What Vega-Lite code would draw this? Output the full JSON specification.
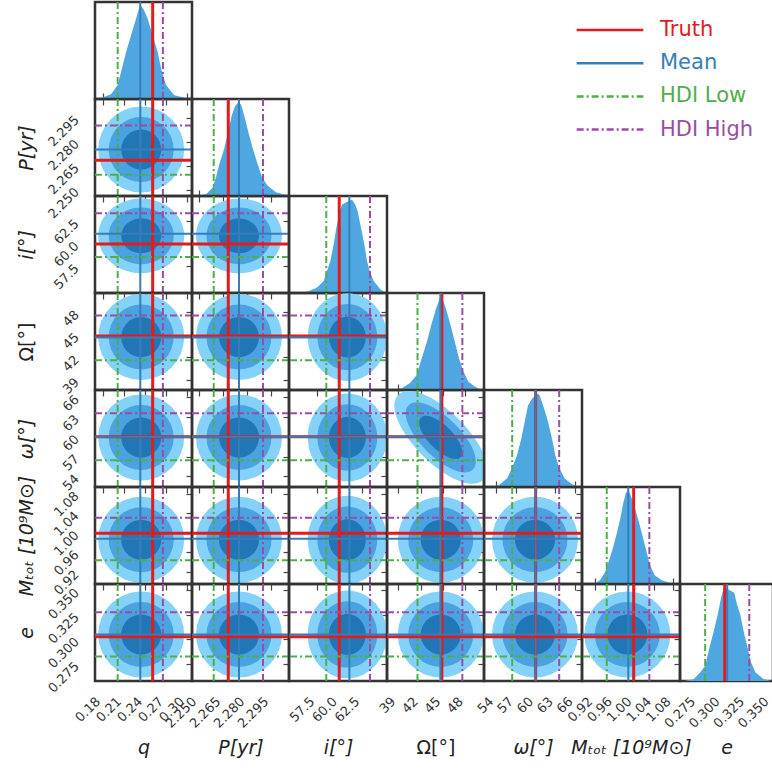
{
"$schema":"https://vega.github.io/schema/vega-lite/v6.json",
"background":"white",
"padding":{"left":15,"top":-1,"right":0,"bottom":0},
"columns":7,"spacing":0,"bounds":"flush",
"datasets":{
"ctr":[{"lv":1,"q":0.235,"P":2.275,"i":60.87,"Om":44.7,"om":59.9,"M":0.986,"e":0.305},{"lv":2,"q":0.235,"P":2.275,"i":60.87,"Om":44.7,"om":59.9,"M":0.986,"e":0.305},{"lv":3,"q":0.235,"P":2.275,"i":60.87,"Om":44.7,"om":59.9,"M":0.986,"e":0.305}],
"st":[{"k":"Truth","q":0.2514,"P":2.2683,"i":59.97,"Om":44.85,"om":60.0,"M":0.999,"e":0.3025},{"k":"Mean","q":0.2337,"P":2.275,"i":61.1,"Om":44.65,"om":60.0,"M":0.988,"e":0.305},{"k":"HDI Low","q":0.2014,"P":2.2592,"i":58.53,"Om":41.6,"om":56.45,"M":0.944,"e":0.2825},{"k":"HDI High","q":0.266,"P":2.29,"i":63.39,"Om":47.58,"om":63.56,"M":1.031,"e":0.3275}],
"h_q":[{"x":0.1729,"d":0},{"x":0.1776,"d":0.01},{"x":0.1919,"d":0.05},{"x":0.2014,"d":0.15},{"x":0.2076,"d":0.33},{"x":0.2133,"d":0.5},{"x":0.2204,"d":0.68},{"x":0.2276,"d":0.86},{"x":0.2323,"d":0.98},{"x":0.2347,"d":1.0},{"x":0.2386,"d":0.96},{"x":0.2443,"d":0.86},{"x":0.2514,"d":0.68},{"x":0.2586,"d":0.5},{"x":0.2633,"d":0.33},{"x":0.2704,"d":0.15},{"x":0.2823,"d":0.04},{"x":0.299,"d":0.01},{"x":0.3007,"d":0}],
"h_P":[{"x":2.2492,"d":0},{"x":2.2544,"d":0.02},{"x":2.2585,"d":0.09},{"x":2.2606,"d":0.2},{"x":2.2627,"d":0.34},{"x":2.2658,"d":0.51},{"x":2.2683,"d":0.69},{"x":2.2704,"d":0.86},{"x":2.2725,"d":0.96},{"x":2.2742,"d":1.0},{"x":2.2763,"d":0.98},{"x":2.2783,"d":0.86},{"x":2.2808,"d":0.69},{"x":2.2836,"d":0.51},{"x":2.2867,"d":0.34},{"x":2.2894,"d":0.2},{"x":2.2929,"d":0.11},{"x":2.2981,"d":0.04},{"x":2.3044,"d":0.01},{"x":2.3054,"d":0}],
"h_i":[{"x":55.28,"d":0},{"x":56.39,"d":0.014},{"x":57.5,"d":0.057},{"x":58.24,"d":0.128},{"x":58.61,"d":0.235},{"x":58.98,"d":0.34},{"x":59.35,"d":0.52},{"x":59.65,"d":0.7},{"x":60.02,"d":0.875},{"x":60.28,"d":0.947},{"x":61.02,"d":0.986},{"x":61.39,"d":1.0},{"x":61.76,"d":0.947},{"x":62.02,"d":0.875},{"x":62.39,"d":0.7},{"x":62.76,"d":0.52},{"x":63.06,"d":0.34},{"x":63.35,"d":0.235},{"x":63.8,"d":0.128},{"x":64.54,"d":0.04},{"x":65.2,"d":0}],
"h_Om":[{"x":38.16,"d":0},{"x":39.49,"d":0.02},{"x":40.6,"d":0.074},{"x":41.49,"d":0.16},{"x":42.16,"d":0.34},{"x":42.83,"d":0.51},{"x":43.4,"d":0.69},{"x":44.07,"d":0.87},{"x":44.51,"d":0.97},{"x":44.73,"d":1.0},{"x":44.96,"d":0.97},{"x":45.4,"d":0.87},{"x":46.03,"d":0.69},{"x":46.6,"d":0.51},{"x":47.13,"d":0.34},{"x":47.71,"d":0.2},{"x":48.37,"d":0.09},{"x":49.17,"d":0.04},{"x":50.16,"d":0}],
"h_om":[{"x":53.14,"d":0},{"x":54.41,"d":0.02},{"x":55.66,"d":0.09},{"x":56.42,"d":0.2},{"x":57.18,"d":0.34},{"x":57.83,"d":0.52},{"x":58.34,"d":0.7},{"x":58.84,"d":0.875},{"x":59.45,"d":0.947},{"x":59.95,"d":0.98},{"x":60.35,"d":1.0},{"x":60.61,"d":0.98},{"x":60.96,"d":0.91},{"x":61.46,"d":0.8},{"x":61.87,"d":0.7},{"x":62.47,"d":0.52},{"x":62.97,"d":0.34},{"x":63.58,"d":0.2},{"x":64.39,"d":0.09},{"x":65.5,"d":0.03},{"x":66.51,"d":0}],
"h_M":[{"x":0.9165,"d":0},{"x":0.9302,"d":0.04},{"x":0.9404,"d":0.127},{"x":0.9472,"d":0.23},{"x":0.9541,"d":0.34},{"x":0.9629,"d":0.51},{"x":0.9711,"d":0.69},{"x":0.9778,"d":0.87},{"x":0.9827,"d":0.97},{"x":0.986,"d":1.0},{"x":0.9915,"d":0.97},{"x":0.9983,"d":0.87},{"x":1.0084,"d":0.69},{"x":1.0174,"d":0.51},{"x":1.0256,"d":0.34},{"x":1.0323,"d":0.2},{"x":1.0425,"d":0.09},{"x":1.0562,"d":0.04},{"x":1.0732,"d":0.01},{"x":1.08,"d":0}],
"h_e":[{"x":0.2606,"d":0},{"x":0.2708,"d":0.02},{"x":0.2776,"d":0.094},{"x":0.2827,"d":0.167},{"x":0.2867,"d":0.35},{"x":0.2912,"d":0.53},{"x":0.2953,"d":0.71},{"x":0.2987,"d":0.89},{"x":0.3014,"d":1.0},{"x":0.3048,"d":0.99},{"x":0.3122,"d":0.946},{"x":0.315,"d":0.82},{"x":0.3184,"d":0.71},{"x":0.3218,"d":0.53},{"x":0.3259,"d":0.35},{"x":0.3293,"d":0.2},{"x":0.3337,"d":0.094},{"x":0.3422,"d":0.02},{"x":0.3507,"d":0}]
},
"concat":[
{"width":97,"height":97,"resolve":{"axis":{"x":"independent"}},"layer":[
{"data":{"name":"h_q"},"mark":{"type":"area","color":"#4fa7e1","clip":true},"encoding":{"x":{"field":"x","type":"quantitative","scale":{"domain":[0.169,0.30757],"nice":false,"zero":false},"axis":null},"y":{"field":"d","type":"quantitative","scale":{"domain":[0,1.04],"nice":false},"axis":null}}},
{"data":{"name":"st"},"mark":"rule","encoding":{"x":{"field":"q","type":"quantitative","axis":{"orient":"bottom","values":[0.18,0.21,0.24,0.27,0.3],"title":null}},"color":{"field":"k","type":"nominal","title":null,"scale":{"domain":["Truth","Mean","HDI Low","HDI High"],"range":["#e41a1c","#377eb8","#4daf4a","#984ea3"]},"legend":{"title":null,"labelColor":{"expr":"datum.value=='Truth'?'#e41a1c':datum.value=='Mean'?'#377eb8':datum.value=='HDI Low'?'#4daf4a':'#984ea3'"}}},"strokeDash":{"field":"k","type":"nominal","title":null,"scale":{"domain":["Truth","Mean","HDI Low","HDI High"],"range":[[1,0],[1,0],[7,3,2,3],[7,3,2,3]]},"legend":{"title":null}},"strokeWidth":{"condition":{"test":"datum.k=='Truth'","value":3},"value":2}}}]},
{"width":97,"height":97,"data":{"values":[]},"mark":"point","view":{"stroke":null}},
{"width":98,"height":97,"data":{"values":[]},"mark":"point","view":{"stroke":null}},
{"width":97,"height":97,"data":{"values":[]},"mark":"point","view":{"stroke":null}},
{"width":98,"height":97,"data":{"values":[]},"mark":"point","view":{"stroke":null}},
{"width":98,"height":97,"data":{"values":[]},"mark":"point","view":{"stroke":null}},
{"width":93,"height":97,"data":{"values":[]},"mark":"point","view":{"stroke":null}},

{"width":97,"height":97,"resolve":{"axis":{"x":"independent","y":"independent"}},"layer":[
{"data":{"name":"ctr"},"mark":{"type":"point","shape":"circle","filled":true,"opacity":1,"strokeWidth":0,"clip":true},"encoding":{"x":{"field":"q","type":"quantitative","scale":{"domain":[0.169,0.30757],"nice":false,"zero":false},"axis":{"orient":"top","values":[0.18,0.21,0.24,0.27,0.3],"title":null}},"y":{"field":"P","type":"quantitative","scale":{"domain":[2.246,2.3066],"nice":false,"zero":false},"axis":{"orient":"right","values":[2.25,2.265,2.28,2.295],"title":null}},"size":{"condition":[{"test":"datum.lv==1","value":7396},{"test":"datum.lv==2","value":4225}],"value":1600},"fill":{"condition":[{"test":"datum.lv==1","value":"#84d2f9"},{"test":"datum.lv==2","value":"#4aa2e0"}],"value":"#2176b6"}}},
{"data":{"name":"st"},"mark":"rule","encoding":{"x":{"field":"q","type":"quantitative","axis":null},"color":{"field":"k","type":"nominal","title":null},"strokeDash":{"field":"k","type":"nominal","title":null},"strokeWidth":{"condition":{"test":"datum.k=='Truth'","value":3},"value":2}}},
{"data":{"name":"st"},"mark":"rule","encoding":{"y":{"field":"P","type":"quantitative","axis":{"orient":"left","values":[2.25,2.265,2.28,2.295],"format":".3f","labels":true,"ticks":false,"labelAngle":-45,"labelAlign":"right","labelBaseline":"middle","labelPadding":18.6,"title":"P[yr]","titleFontStyle":"italic","titleX":-63,"titleY":48.5,"titleAngle":-90,"titleAlign":"center","titleBaseline":"alphabetic"}},"color":{"field":"k","type":"nominal","title":null},"strokeDash":{"field":"k","type":"nominal","title":null},"strokeWidth":{"condition":{"test":"datum.k=='Truth'","value":3},"value":2}}}]},
{"width":97,"height":97,"resolve":{"axis":{"x":"independent"}},"layer":[
{"data":{"name":"h_P"},"mark":{"type":"area","color":"#4fa7e1","clip":true},"encoding":{"x":{"field":"x","type":"quantitative","scale":{"domain":[2.24563,2.30625],"nice":false,"zero":false},"axis":null},"y":{"field":"d","type":"quantitative","scale":{"domain":[0,1.04],"nice":false},"axis":null}}},
{"data":{"name":"st"},"mark":"rule","encoding":{"x":{"field":"P","type":"quantitative","axis":{"orient":"bottom","values":[2.25,2.265,2.28,2.295],"title":null}},"color":{"field":"k","type":"nominal","title":null},"strokeDash":{"field":"k","type":"nominal","title":null},"strokeWidth":{"condition":{"test":"datum.k=='Truth'","value":3},"value":2}}}]},
{"width":98,"height":97,"data":{"values":[]},"mark":"point","view":{"stroke":null}},
{"width":97,"height":97,"data":{"values":[]},"mark":"point","view":{"stroke":null}},
{"width":98,"height":97,"data":{"values":[]},"mark":"point","view":{"stroke":null}},
{"width":98,"height":97,"data":{"values":[]},"mark":"point","view":{"stroke":null}},
{"width":93,"height":97,"data":{"values":[]},"mark":"point","view":{"stroke":null}},

{"width":97,"height":97,"resolve":{"axis":{"x":"independent","y":"independent"}},"layer":[
{"data":{"name":"ctr"},"mark":{"type":"point","shape":"M 1 0 A 1 0.87 0 1 1 -1 0 A 1 0.87 0 1 1 1 0 Z","filled":true,"opacity":1,"strokeWidth":0,"clip":true},"encoding":{"x":{"field":"q","type":"quantitative","scale":{"domain":[0.169,0.30757],"nice":false,"zero":false},"axis":{"orient":"top","values":[0.18,0.21,0.24,0.27,0.3],"title":null}},"y":{"field":"i","type":"quantitative","scale":{"domain":[54.52,65.3],"nice":false,"zero":false},"axis":{"orient":"right","values":[57.5,60,62.5],"title":null}},"size":{"condition":[{"test":"datum.lv==1","value":7396},{"test":"datum.lv==2","value":4225}],"value":1600},"fill":{"condition":[{"test":"datum.lv==1","value":"#84d2f9"},{"test":"datum.lv==2","value":"#4aa2e0"}],"value":"#2176b6"}}},
{"data":{"name":"st"},"mark":"rule","encoding":{"x":{"field":"q","type":"quantitative","axis":null},"color":{"field":"k","type":"nominal","title":null},"strokeDash":{"field":"k","type":"nominal","title":null},"strokeWidth":{"condition":{"test":"datum.k=='Truth'","value":3},"value":2}}},
{"data":{"name":"st"},"mark":"rule","encoding":{"y":{"field":"i","type":"quantitative","axis":{"orient":"left","values":[57.5,60,62.5],"format":".1f","labels":true,"ticks":false,"labelAngle":-45,"labelAlign":"right","labelBaseline":"middle","labelPadding":18.6,"title":"i[°]","titleFontStyle":"italic","titleX":-63,"titleY":48.5,"titleAngle":-90,"titleAlign":"center","titleBaseline":"alphabetic"}},"color":{"field":"k","type":"nominal","title":null},"strokeDash":{"field":"k","type":"nominal","title":null},"strokeWidth":{"condition":{"test":"datum.k=='Truth'","value":3},"value":2}}}]},
{"width":97,"height":97,"resolve":{"axis":{"x":"independent","y":"independent"}},"layer":[
{"data":{"name":"ctr"},"mark":{"type":"point","shape":"M 1 0 A 1 0.87 0 1 1 -1 0 A 1 0.87 0 1 1 1 0 Z","filled":true,"opacity":1,"strokeWidth":0,"clip":true},"encoding":{"x":{"field":"P","type":"quantitative","scale":{"domain":[2.24563,2.30625],"nice":false,"zero":false},"axis":{"orient":"top","values":[2.25,2.265,2.28,2.295],"title":null}},"y":{"field":"i","type":"quantitative","scale":{"domain":[54.52,65.3],"nice":false,"zero":false},"axis":{"orient":"right","values":[57.5,60,62.5],"title":null}},"size":{"condition":[{"test":"datum.lv==1","value":7396},{"test":"datum.lv==2","value":4225}],"value":1600},"fill":{"condition":[{"test":"datum.lv==1","value":"#84d2f9"},{"test":"datum.lv==2","value":"#4aa2e0"}],"value":"#2176b6"}}},
{"data":{"name":"st"},"mark":"rule","encoding":{"x":{"field":"P","type":"quantitative","axis":null},"color":{"field":"k","type":"nominal","title":null},"strokeDash":{"field":"k","type":"nominal","title":null},"strokeWidth":{"condition":{"test":"datum.k=='Truth'","value":3},"value":2}}},
{"data":{"name":"st"},"mark":"rule","encoding":{"y":{"field":"i","type":"quantitative","axis":null},"color":{"field":"k","type":"nominal","title":null},"strokeDash":{"field":"k","type":"nominal","title":null},"strokeWidth":{"condition":{"test":"datum.k=='Truth'","value":3},"value":2}}}]},
{"width":98,"height":97,"resolve":{"axis":{"x":"independent"}},"layer":[
{"data":{"name":"h_i"},"mark":{"type":"area","color":"#4fa7e1","clip":true},"encoding":{"x":{"field":"x","type":"quantitative","scale":{"domain":[54.389,65.278],"nice":false,"zero":false},"axis":null},"y":{"field":"d","type":"quantitative","scale":{"domain":[0,1.04],"nice":false},"axis":null}}},
{"data":{"name":"st"},"mark":"rule","encoding":{"x":{"field":"i","type":"quantitative","axis":{"orient":"bottom","values":[57.5,60,62.5],"title":null}},"color":{"field":"k","type":"nominal","title":null},"strokeDash":{"field":"k","type":"nominal","title":null},"strokeWidth":{"condition":{"test":"datum.k=='Truth'","value":3},"value":2}}}]},
{"width":97,"height":97,"data":{"values":[]},"mark":"point","view":{"stroke":null}},
{"width":98,"height":97,"data":{"values":[]},"mark":"point","view":{"stroke":null}},
{"width":98,"height":97,"data":{"values":[]},"mark":"point","view":{"stroke":null}},
{"width":93,"height":97,"data":{"values":[]},"mark":"point","view":{"stroke":null}},

{"width":97,"height":97,"resolve":{"axis":{"x":"independent","y":"independent"}},"layer":[
{"data":{"name":"ctr"},"mark":{"type":"point","shape":"circle","filled":true,"opacity":1,"strokeWidth":0,"clip":true},"encoding":{"x":{"field":"q","type":"quantitative","scale":{"domain":[0.169,0.30757],"nice":false,"zero":false},"axis":{"orient":"top","values":[0.18,0.21,0.24,0.27,0.3],"title":null}},"y":{"field":"Om","type":"quantitative","scale":{"domain":[37.64,50.57],"nice":false,"zero":false},"axis":{"orient":"right","values":[39,42,45,48],"title":null}},"size":{"condition":[{"test":"datum.lv==1","value":7396},{"test":"datum.lv==2","value":4225}],"value":1600},"fill":{"condition":[{"test":"datum.lv==1","value":"#84d2f9"},{"test":"datum.lv==2","value":"#4aa2e0"}],"value":"#2176b6"}}},
{"data":{"name":"st"},"mark":"rule","encoding":{"x":{"field":"q","type":"quantitative","axis":null},"color":{"field":"k","type":"nominal","title":null},"strokeDash":{"field":"k","type":"nominal","title":null},"strokeWidth":{"condition":{"test":"datum.k=='Truth'","value":3},"value":2}}},
{"data":{"name":"st"},"mark":"rule","encoding":{"y":{"field":"Om","type":"quantitative","axis":{"orient":"left","values":[39,42,45,48],"format":"d","labels":true,"ticks":false,"labelAngle":-45,"labelAlign":"right","labelBaseline":"middle","labelPadding":18.6,"title":"Ω[°]","titleFontStyle":"normal","titleX":-63,"titleY":48.5,"titleAngle":-90,"titleAlign":"center","titleBaseline":"alphabetic"}},"color":{"field":"k","type":"nominal","title":null},"strokeDash":{"field":"k","type":"nominal","title":null},"strokeWidth":{"condition":{"test":"datum.k=='Truth'","value":3},"value":2}}}]},
{"width":97,"height":97,"resolve":{"axis":{"x":"independent","y":"independent"}},"layer":[
{"data":{"name":"ctr"},"mark":{"type":"point","shape":"circle","filled":true,"opacity":1,"strokeWidth":0,"clip":true},"encoding":{"x":{"field":"P","type":"quantitative","scale":{"domain":[2.24563,2.30625],"nice":false,"zero":false},"axis":{"orient":"top","values":[2.25,2.265,2.28,2.295],"title":null}},"y":{"field":"Om","type":"quantitative","scale":{"domain":[37.64,50.57],"nice":false,"zero":false},"axis":{"orient":"right","values":[39,42,45,48],"title":null}},"size":{"condition":[{"test":"datum.lv==1","value":7396},{"test":"datum.lv==2","value":4225}],"value":1600},"fill":{"condition":[{"test":"datum.lv==1","value":"#84d2f9"},{"test":"datum.lv==2","value":"#4aa2e0"}],"value":"#2176b6"}}},
{"data":{"name":"st"},"mark":"rule","encoding":{"x":{"field":"P","type":"quantitative","axis":null},"color":{"field":"k","type":"nominal","title":null},"strokeDash":{"field":"k","type":"nominal","title":null},"strokeWidth":{"condition":{"test":"datum.k=='Truth'","value":3},"value":2}}},
{"data":{"name":"st"},"mark":"rule","encoding":{"y":{"field":"Om","type":"quantitative","axis":null},"color":{"field":"k","type":"nominal","title":null},"strokeDash":{"field":"k","type":"nominal","title":null},"strokeWidth":{"condition":{"test":"datum.k=='Truth'","value":3},"value":2}}}]},
{"width":98,"height":97,"resolve":{"axis":{"x":"independent","y":"independent"}},"layer":[
{"data":{"name":"ctr"},"mark":{"type":"point","shape":"M 0.92 0 A 0.92 1.02 0 1 1 -0.92 0 A 0.92 1.02 0 1 1 0.92 0 Z","filled":true,"opacity":1,"strokeWidth":0,"clip":true},"encoding":{"x":{"field":"i","type":"quantitative","scale":{"domain":[54.389,65.278],"nice":false,"zero":false},"axis":{"orient":"top","values":[57.5,60,62.5],"title":null}},"y":{"field":"Om","type":"quantitative","scale":{"domain":[37.64,50.57],"nice":false,"zero":false},"axis":{"orient":"right","values":[39,42,45,48],"title":null}},"size":{"condition":[{"test":"datum.lv==1","value":7396},{"test":"datum.lv==2","value":4225}],"value":1600},"fill":{"condition":[{"test":"datum.lv==1","value":"#84d2f9"},{"test":"datum.lv==2","value":"#4aa2e0"}],"value":"#2176b6"}}},
{"data":{"name":"st"},"mark":"rule","encoding":{"x":{"field":"i","type":"quantitative","axis":null},"color":{"field":"k","type":"nominal","title":null},"strokeDash":{"field":"k","type":"nominal","title":null},"strokeWidth":{"condition":{"test":"datum.k=='Truth'","value":3},"value":2}}},
{"data":{"name":"st"},"mark":"rule","encoding":{"y":{"field":"Om","type":"quantitative","axis":null},"color":{"field":"k","type":"nominal","title":null},"strokeDash":{"field":"k","type":"nominal","title":null},"strokeWidth":{"condition":{"test":"datum.k=='Truth'","value":3},"value":2}}}]},
{"width":97,"height":97,"resolve":{"axis":{"x":"independent"}},"layer":[
{"data":{"name":"h_Om"},"mark":{"type":"area","color":"#4fa7e1","clip":true},"encoding":{"x":{"field":"x","type":"quantitative","scale":{"domain":[37.533,50.467],"nice":false,"zero":false},"axis":null},"y":{"field":"d","type":"quantitative","scale":{"domain":[0,1.04],"nice":false},"axis":null}}},
{"data":{"name":"st"},"mark":"rule","encoding":{"x":{"field":"Om","type":"quantitative","axis":{"orient":"bottom","values":[39,42,45,48],"title":null}},"color":{"field":"k","type":"nominal","title":null},"strokeDash":{"field":"k","type":"nominal","title":null},"strokeWidth":{"condition":{"test":"datum.k=='Truth'","value":3},"value":2}}}]},
{"width":98,"height":97,"data":{"values":[]},"mark":"point","view":{"stroke":null}},
{"width":98,"height":97,"data":{"values":[]},"mark":"point","view":{"stroke":null}},
{"width":93,"height":97,"data":{"values":[]},"mark":"point","view":{"stroke":null}},

{"width":97,"height":97,"resolve":{"axis":{"x":"independent","y":"independent"}},"layer":[
{"data":{"name":"ctr"},"mark":{"type":"point","shape":"circle","filled":true,"opacity":1,"strokeWidth":0,"clip":true},"encoding":{"x":{"field":"q","type":"quantitative","scale":{"domain":[0.169,0.30757],"nice":false,"zero":false},"axis":{"orient":"top","values":[0.18,0.21,0.24,0.27,0.3],"title":null}},"y":{"field":"om","type":"quantitative","scale":{"domain":[52.4,67.07],"nice":false,"zero":false},"axis":{"orient":"right","values":[54,57,60,63,66],"title":null}},"size":{"condition":[{"test":"datum.lv==1","value":7396},{"test":"datum.lv==2","value":4225}],"value":1600},"fill":{"condition":[{"test":"datum.lv==1","value":"#84d2f9"},{"test":"datum.lv==2","value":"#4aa2e0"}],"value":"#2176b6"}}},
{"data":{"name":"st"},"mark":"rule","encoding":{"x":{"field":"q","type":"quantitative","axis":null},"color":{"field":"k","type":"nominal","title":null},"strokeDash":{"field":"k","type":"nominal","title":null},"strokeWidth":{"condition":{"test":"datum.k=='Truth'","value":3},"value":2}}},
{"data":{"name":"st"},"mark":"rule","encoding":{"y":{"field":"om","type":"quantitative","axis":{"orient":"left","values":[54,57,60,63,66],"format":"d","labels":true,"ticks":false,"labelAngle":-45,"labelAlign":"right","labelBaseline":"middle","labelPadding":18.6,"title":"ω[°]","titleFontStyle":"italic","titleX":-63,"titleY":48.5,"titleAngle":-90,"titleAlign":"center","titleBaseline":"alphabetic"}},"color":{"field":"k","type":"nominal","title":null},"strokeDash":{"field":"k","type":"nominal","title":null},"strokeWidth":{"condition":{"test":"datum.k=='Truth'","value":3},"value":2}}}]},
{"width":97,"height":97,"resolve":{"axis":{"x":"independent","y":"independent"}},"layer":[
{"data":{"name":"ctr"},"mark":{"type":"point","shape":"circle","filled":true,"opacity":1,"strokeWidth":0,"clip":true},"encoding":{"x":{"field":"P","type":"quantitative","scale":{"domain":[2.24563,2.30625],"nice":false,"zero":false},"axis":{"orient":"top","values":[2.25,2.265,2.28,2.295],"title":null}},"y":{"field":"om","type":"quantitative","scale":{"domain":[52.4,67.07],"nice":false,"zero":false},"axis":{"orient":"right","values":[54,57,60,63,66],"title":null}},"size":{"condition":[{"test":"datum.lv==1","value":7396},{"test":"datum.lv==2","value":4225}],"value":1600},"fill":{"condition":[{"test":"datum.lv==1","value":"#84d2f9"},{"test":"datum.lv==2","value":"#4aa2e0"}],"value":"#2176b6"}}},
{"data":{"name":"st"},"mark":"rule","encoding":{"x":{"field":"P","type":"quantitative","axis":null},"color":{"field":"k","type":"nominal","title":null},"strokeDash":{"field":"k","type":"nominal","title":null},"strokeWidth":{"condition":{"test":"datum.k=='Truth'","value":3},"value":2}}},
{"data":{"name":"st"},"mark":"rule","encoding":{"y":{"field":"om","type":"quantitative","axis":null},"color":{"field":"k","type":"nominal","title":null},"strokeDash":{"field":"k","type":"nominal","title":null},"strokeWidth":{"condition":{"test":"datum.k=='Truth'","value":3},"value":2}}}]},
{"width":98,"height":97,"resolve":{"axis":{"x":"independent","y":"independent"}},"layer":[
{"data":{"name":"ctr"},"mark":{"type":"point","shape":"M 0.92 0 A 0.92 1.02 0 1 1 -0.92 0 A 0.92 1.02 0 1 1 0.92 0 Z","filled":true,"opacity":1,"strokeWidth":0,"clip":true},"encoding":{"x":{"field":"i","type":"quantitative","scale":{"domain":[54.389,65.278],"nice":false,"zero":false},"axis":{"orient":"top","values":[57.5,60,62.5],"title":null}},"y":{"field":"om","type":"quantitative","scale":{"domain":[52.4,67.07],"nice":false,"zero":false},"axis":{"orient":"right","values":[54,57,60,63,66],"title":null}},"size":{"condition":[{"test":"datum.lv==1","value":7396},{"test":"datum.lv==2","value":4225}],"value":1600},"fill":{"condition":[{"test":"datum.lv==1","value":"#84d2f9"},{"test":"datum.lv==2","value":"#4aa2e0"}],"value":"#2176b6"}}},
{"data":{"name":"st"},"mark":"rule","encoding":{"x":{"field":"i","type":"quantitative","axis":null},"color":{"field":"k","type":"nominal","title":null},"strokeDash":{"field":"k","type":"nominal","title":null},"strokeWidth":{"condition":{"test":"datum.k=='Truth'","value":3},"value":2}}},
{"data":{"name":"st"},"mark":"rule","encoding":{"y":{"field":"om","type":"quantitative","axis":null},"color":{"field":"k","type":"nominal","title":null},"strokeDash":{"field":"k","type":"nominal","title":null},"strokeWidth":{"condition":{"test":"datum.k=='Truth'","value":3},"value":2}}}]},
{"width":97,"height":97,"resolve":{"axis":{"x":"independent","y":"independent"}},"layer":[
{"data":{"name":"ctr"},"mark":{"type":"point","shape":"M 0.986 0.986 A 1.395 0.58 45 1 1 -0.986 -0.986 A 1.395 0.58 45 1 1 0.986 0.986 Z","filled":true,"opacity":1,"strokeWidth":0,"clip":true},"encoding":{"x":{"field":"Om","type":"quantitative","scale":{"domain":[37.533,50.467],"nice":false,"zero":false},"axis":{"orient":"top","values":[39,42,45,48],"title":null}},"y":{"field":"om","type":"quantitative","scale":{"domain":[52.4,67.07],"nice":false,"zero":false},"axis":{"orient":"right","values":[54,57,60,63,66],"title":null}},"size":{"condition":[{"test":"datum.lv==1","value":7396},{"test":"datum.lv==2","value":4225}],"value":1600},"fill":{"condition":[{"test":"datum.lv==1","value":"#84d2f9"},{"test":"datum.lv==2","value":"#4aa2e0"}],"value":"#2176b6"}}},
{"data":{"name":"st"},"mark":"rule","encoding":{"x":{"field":"Om","type":"quantitative","axis":null},"color":{"field":"k","type":"nominal","title":null},"strokeDash":{"field":"k","type":"nominal","title":null},"strokeWidth":{"condition":{"test":"datum.k=='Truth'","value":3},"value":2}}},
{"data":{"name":"st"},"mark":"rule","encoding":{"y":{"field":"om","type":"quantitative","axis":null},"color":{"field":"k","type":"nominal","title":null},"strokeDash":{"field":"k","type":"nominal","title":null},"strokeWidth":{"condition":{"test":"datum.k=='Truth'","value":3},"value":2}}}]},
{"width":98,"height":97,"resolve":{"axis":{"x":"independent"}},"layer":[
{"data":{"name":"h_om"},"mark":{"type":"area","color":"#4fa7e1","clip":true},"encoding":{"x":{"field":"x","type":"quantitative","scale":{"domain":[52.185,67.011],"nice":false,"zero":false},"axis":null},"y":{"field":"d","type":"quantitative","scale":{"domain":[0,1.04],"nice":false},"axis":null}}},
{"data":{"name":"st"},"mark":"rule","encoding":{"x":{"field":"om","type":"quantitative","axis":{"orient":"bottom","values":[54,57,60,63,66],"title":null}},"color":{"field":"k","type":"nominal","title":null},"strokeDash":{"field":"k","type":"nominal","title":null},"strokeWidth":{"condition":{"test":"datum.k=='Truth'","value":3},"value":2}}}]},
{"width":98,"height":97,"data":{"values":[]},"mark":"point","view":{"stroke":null}},
{"width":93,"height":97,"data":{"values":[]},"mark":"point","view":{"stroke":null}},

{"width":97,"height":97,"resolve":{"axis":{"x":"independent","y":"independent"}},"layer":[
{"data":{"name":"ctr"},"mark":{"type":"point","shape":"circle","filled":true,"opacity":1,"strokeWidth":0,"clip":true},"encoding":{"x":{"field":"q","type":"quantitative","scale":{"domain":[0.169,0.30757],"nice":false,"zero":false},"axis":{"orient":"top","values":[0.18,0.21,0.24,0.27,0.3],"title":null}},"y":{"field":"M","type":"quantitative","scale":{"domain":[0.8955,1.0936],"nice":false,"zero":false},"axis":{"orient":"right","values":[0.92,0.96,1,1.04,1.08],"title":null}},"size":{"condition":[{"test":"datum.lv==1","value":7396},{"test":"datum.lv==2","value":4225}],"value":1600},"fill":{"condition":[{"test":"datum.lv==1","value":"#84d2f9"},{"test":"datum.lv==2","value":"#4aa2e0"}],"value":"#2176b6"}}},
{"data":{"name":"st"},"mark":"rule","encoding":{"x":{"field":"q","type":"quantitative","axis":null},"color":{"field":"k","type":"nominal","title":null},"strokeDash":{"field":"k","type":"nominal","title":null},"strokeWidth":{"condition":{"test":"datum.k=='Truth'","value":3},"value":2}}},
{"data":{"name":"st"},"mark":"rule","encoding":{"y":{"field":"M","type":"quantitative","axis":{"orient":"left","values":[0.92,0.96,1,1.04,1.08],"format":".2f","labels":true,"ticks":false,"labelAngle":-45,"labelAlign":"right","labelBaseline":"middle","labelPadding":18.6,"title":"Mₜₒₜ [10⁹M⊙]","titleFontStyle":"italic","titleX":-63,"titleY":48.5,"titleAngle":-90,"titleAlign":"center","titleBaseline":"alphabetic"}},"color":{"field":"k","type":"nominal","title":null},"strokeDash":{"field":"k","type":"nominal","title":null},"strokeWidth":{"condition":{"test":"datum.k=='Truth'","value":3},"value":2}}}]},
{"width":97,"height":97,"resolve":{"axis":{"x":"independent","y":"independent"}},"layer":[
{"data":{"name":"ctr"},"mark":{"type":"point","shape":"circle","filled":true,"opacity":1,"strokeWidth":0,"clip":true},"encoding":{"x":{"field":"P","type":"quantitative","scale":{"domain":[2.24563,2.30625],"nice":false,"zero":false},"axis":{"orient":"top","values":[2.25,2.265,2.28,2.295],"title":null}},"y":{"field":"M","type":"quantitative","scale":{"domain":[0.8955,1.0936],"nice":false,"zero":false},"axis":{"orient":"right","values":[0.92,0.96,1,1.04,1.08],"title":null}},"size":{"condition":[{"test":"datum.lv==1","value":7396},{"test":"datum.lv==2","value":4225}],"value":1600},"fill":{"condition":[{"test":"datum.lv==1","value":"#84d2f9"},{"test":"datum.lv==2","value":"#4aa2e0"}],"value":"#2176b6"}}},
{"data":{"name":"st"},"mark":"rule","encoding":{"x":{"field":"P","type":"quantitative","axis":null},"color":{"field":"k","type":"nominal","title":null},"strokeDash":{"field":"k","type":"nominal","title":null},"strokeWidth":{"condition":{"test":"datum.k=='Truth'","value":3},"value":2}}},
{"data":{"name":"st"},"mark":"rule","encoding":{"y":{"field":"M","type":"quantitative","axis":null},"color":{"field":"k","type":"nominal","title":null},"strokeDash":{"field":"k","type":"nominal","title":null},"strokeWidth":{"condition":{"test":"datum.k=='Truth'","value":3},"value":2}}}]},
{"width":98,"height":97,"resolve":{"axis":{"x":"independent","y":"independent"}},"layer":[
{"data":{"name":"ctr"},"mark":{"type":"point","shape":"M 0.92 0 A 0.92 1.02 0 1 1 -0.92 0 A 0.92 1.02 0 1 1 0.92 0 Z","filled":true,"opacity":1,"strokeWidth":0,"clip":true},"encoding":{"x":{"field":"i","type":"quantitative","scale":{"domain":[54.389,65.278],"nice":false,"zero":false},"axis":{"orient":"top","values":[57.5,60,62.5],"title":null}},"y":{"field":"M","type":"quantitative","scale":{"domain":[0.8955,1.0936],"nice":false,"zero":false},"axis":{"orient":"right","values":[0.92,0.96,1,1.04,1.08],"title":null}},"size":{"condition":[{"test":"datum.lv==1","value":7396},{"test":"datum.lv==2","value":4225}],"value":1600},"fill":{"condition":[{"test":"datum.lv==1","value":"#84d2f9"},{"test":"datum.lv==2","value":"#4aa2e0"}],"value":"#2176b6"}}},
{"data":{"name":"st"},"mark":"rule","encoding":{"x":{"field":"i","type":"quantitative","axis":null},"color":{"field":"k","type":"nominal","title":null},"strokeDash":{"field":"k","type":"nominal","title":null},"strokeWidth":{"condition":{"test":"datum.k=='Truth'","value":3},"value":2}}},
{"data":{"name":"st"},"mark":"rule","encoding":{"y":{"field":"M","type":"quantitative","axis":null},"color":{"field":"k","type":"nominal","title":null},"strokeDash":{"field":"k","type":"nominal","title":null},"strokeWidth":{"condition":{"test":"datum.k=='Truth'","value":3},"value":2}}}]},
{"width":97,"height":97,"resolve":{"axis":{"x":"independent","y":"independent"}},"layer":[
{"data":{"name":"ctr"},"mark":{"type":"point","shape":"circle","filled":true,"opacity":1,"strokeWidth":0,"clip":true},"encoding":{"x":{"field":"Om","type":"quantitative","scale":{"domain":[37.533,50.467],"nice":false,"zero":false},"axis":{"orient":"top","values":[39,42,45,48],"title":null}},"y":{"field":"M","type":"quantitative","scale":{"domain":[0.8955,1.0936],"nice":false,"zero":false},"axis":{"orient":"right","values":[0.92,0.96,1,1.04,1.08],"title":null}},"size":{"condition":[{"test":"datum.lv==1","value":7396},{"test":"datum.lv==2","value":4225}],"value":1600},"fill":{"condition":[{"test":"datum.lv==1","value":"#84d2f9"},{"test":"datum.lv==2","value":"#4aa2e0"}],"value":"#2176b6"}}},
{"data":{"name":"st"},"mark":"rule","encoding":{"x":{"field":"Om","type":"quantitative","axis":null},"color":{"field":"k","type":"nominal","title":null},"strokeDash":{"field":"k","type":"nominal","title":null},"strokeWidth":{"condition":{"test":"datum.k=='Truth'","value":3},"value":2}}},
{"data":{"name":"st"},"mark":"rule","encoding":{"y":{"field":"M","type":"quantitative","axis":null},"color":{"field":"k","type":"nominal","title":null},"strokeDash":{"field":"k","type":"nominal","title":null},"strokeWidth":{"condition":{"test":"datum.k=='Truth'","value":3},"value":2}}}]},
{"width":98,"height":97,"resolve":{"axis":{"x":"independent","y":"independent"}},"layer":[
{"data":{"name":"ctr"},"mark":{"type":"point","shape":"circle","filled":true,"opacity":1,"strokeWidth":0,"clip":true},"encoding":{"x":{"field":"om","type":"quantitative","scale":{"domain":[52.185,67.011],"nice":false,"zero":false},"axis":{"orient":"top","values":[54,57,60,63,66],"title":null}},"y":{"field":"M","type":"quantitative","scale":{"domain":[0.8955,1.0936],"nice":false,"zero":false},"axis":{"orient":"right","values":[0.92,0.96,1,1.04,1.08],"title":null}},"size":{"condition":[{"test":"datum.lv==1","value":7396},{"test":"datum.lv==2","value":4225}],"value":1600},"fill":{"condition":[{"test":"datum.lv==1","value":"#84d2f9"},{"test":"datum.lv==2","value":"#4aa2e0"}],"value":"#2176b6"}}},
{"data":{"name":"st"},"mark":"rule","encoding":{"x":{"field":"om","type":"quantitative","axis":null},"color":{"field":"k","type":"nominal","title":null},"strokeDash":{"field":"k","type":"nominal","title":null},"strokeWidth":{"condition":{"test":"datum.k=='Truth'","value":3},"value":2}}},
{"data":{"name":"st"},"mark":"rule","encoding":{"y":{"field":"M","type":"quantitative","axis":null},"color":{"field":"k","type":"nominal","title":null},"strokeDash":{"field":"k","type":"nominal","title":null},"strokeWidth":{"condition":{"test":"datum.k=='Truth'","value":3},"value":2}}}]},
{"width":98,"height":97,"resolve":{"axis":{"x":"independent"}},"layer":[
{"data":{"name":"h_M"},"mark":{"type":"area","color":"#4fa7e1","clip":true},"encoding":{"x":{"field":"x","type":"quantitative","scale":{"domain":[0.89345,1.09361],"nice":false,"zero":false},"axis":null},"y":{"field":"d","type":"quantitative","scale":{"domain":[0,1.04],"nice":false},"axis":null}}},
{"data":{"name":"st"},"mark":"rule","encoding":{"x":{"field":"M","type":"quantitative","axis":{"orient":"bottom","values":[0.92,0.96,1,1.04,1.08],"title":null}},"color":{"field":"k","type":"nominal","title":null},"strokeDash":{"field":"k","type":"nominal","title":null},"strokeWidth":{"condition":{"test":"datum.k=='Truth'","value":3},"value":2}}}]},
{"width":93,"height":97,"data":{"values":[]},"mark":"point","view":{"stroke":null}},

{"width":97,"height":97,"resolve":{"axis":{"x":"independent","y":"independent"}},"layer":[
{"data":{"name":"ctr"},"mark":{"type":"point","shape":"circle","filled":true,"opacity":1,"strokeWidth":0,"clip":true},"encoding":{"x":{"field":"q","type":"quantitative","scale":{"domain":[0.169,0.30757],"nice":false,"zero":false},"axis":{"orient":"top","values":[0.18,0.21,0.24,0.27,0.3],"title":null}},"y":{"field":"e","type":"quantitative","scale":{"domain":[0.25745,0.35643],"nice":false,"zero":false},"axis":{"orient":"right","values":[0.275,0.3,0.325,0.35],"title":null}},"size":{"condition":[{"test":"datum.lv==1","value":7396},{"test":"datum.lv==2","value":4225}],"value":1600},"fill":{"condition":[{"test":"datum.lv==1","value":"#84d2f9"},{"test":"datum.lv==2","value":"#4aa2e0"}],"value":"#2176b6"}}},
{"data":{"name":"st"},"mark":"rule","encoding":{"x":{"field":"q","type":"quantitative","axis":{"orient":"bottom","values":[0.18,0.21,0.24,0.27,0.3],"format":".2f","labels":true,"ticks":false,"labelAngle":-45,"labelAlign":"right","labelBaseline":"bottom","labelPadding":23,"title":"q","titleFontStyle":"italic","titleY":72,"titleBaseline":"alphabetic"}},"color":{"field":"k","type":"nominal","title":null},"strokeDash":{"field":"k","type":"nominal","title":null},"strokeWidth":{"condition":{"test":"datum.k=='Truth'","value":3},"value":2}}},
{"data":{"name":"st"},"mark":"rule","encoding":{"y":{"field":"e","type":"quantitative","axis":{"orient":"left","values":[0.275,0.3,0.325,0.35],"format":".3f","labels":true,"ticks":false,"labelAngle":-45,"labelAlign":"right","labelBaseline":"middle","labelPadding":18.6,"title":"e","titleFontStyle":"italic","titleX":-63,"titleY":48.5,"titleAngle":-90,"titleAlign":"center","titleBaseline":"alphabetic"}},"color":{"field":"k","type":"nominal","title":null},"strokeDash":{"field":"k","type":"nominal","title":null},"strokeWidth":{"condition":{"test":"datum.k=='Truth'","value":3},"value":2}}}]},
{"width":97,"height":97,"resolve":{"axis":{"x":"independent","y":"independent"}},"layer":[
{"data":{"name":"ctr"},"mark":{"type":"point","shape":"circle","filled":true,"opacity":1,"strokeWidth":0,"clip":true},"encoding":{"x":{"field":"P","type":"quantitative","scale":{"domain":[2.24563,2.30625],"nice":false,"zero":false},"axis":{"orient":"top","values":[2.25,2.265,2.28,2.295],"title":null}},"y":{"field":"e","type":"quantitative","scale":{"domain":[0.25745,0.35643],"nice":false,"zero":false},"axis":{"orient":"right","values":[0.275,0.3,0.325,0.35],"title":null}},"size":{"condition":[{"test":"datum.lv==1","value":7396},{"test":"datum.lv==2","value":4225}],"value":1600},"fill":{"condition":[{"test":"datum.lv==1","value":"#84d2f9"},{"test":"datum.lv==2","value":"#4aa2e0"}],"value":"#2176b6"}}},
{"data":{"name":"st"},"mark":"rule","encoding":{"x":{"field":"P","type":"quantitative","axis":{"orient":"bottom","values":[2.25,2.265,2.28,2.295],"format":".3f","labels":true,"ticks":false,"labelAngle":-45,"labelAlign":"right","labelBaseline":"bottom","labelPadding":23,"title":"P[yr]","titleFontStyle":"italic","titleY":72,"titleBaseline":"alphabetic"}},"color":{"field":"k","type":"nominal","title":null},"strokeDash":{"field":"k","type":"nominal","title":null},"strokeWidth":{"condition":{"test":"datum.k=='Truth'","value":3},"value":2}}},
{"data":{"name":"st"},"mark":"rule","encoding":{"y":{"field":"e","type":"quantitative","axis":null},"color":{"field":"k","type":"nominal","title":null},"strokeDash":{"field":"k","type":"nominal","title":null},"strokeWidth":{"condition":{"test":"datum.k=='Truth'","value":3},"value":2}}}]},
{"width":98,"height":97,"resolve":{"axis":{"x":"independent","y":"independent"}},"layer":[
{"data":{"name":"ctr"},"mark":{"type":"point","shape":"M 0.92 0 A 0.92 1.02 0 1 1 -0.92 0 A 0.92 1.02 0 1 1 0.92 0 Z","filled":true,"opacity":1,"strokeWidth":0,"clip":true},"encoding":{"x":{"field":"i","type":"quantitative","scale":{"domain":[54.389,65.278],"nice":false,"zero":false},"axis":{"orient":"top","values":[57.5,60,62.5],"title":null}},"y":{"field":"e","type":"quantitative","scale":{"domain":[0.25745,0.35643],"nice":false,"zero":false},"axis":{"orient":"right","values":[0.275,0.3,0.325,0.35],"title":null}},"size":{"condition":[{"test":"datum.lv==1","value":7396},{"test":"datum.lv==2","value":4225}],"value":1600},"fill":{"condition":[{"test":"datum.lv==1","value":"#84d2f9"},{"test":"datum.lv==2","value":"#4aa2e0"}],"value":"#2176b6"}}},
{"data":{"name":"st"},"mark":"rule","encoding":{"x":{"field":"i","type":"quantitative","axis":{"orient":"bottom","values":[57.5,60,62.5],"format":".1f","labels":true,"ticks":false,"labelAngle":-45,"labelAlign":"right","labelBaseline":"bottom","labelPadding":23,"title":"i[°]","titleFontStyle":"italic","titleY":72,"titleBaseline":"alphabetic"}},"color":{"field":"k","type":"nominal","title":null},"strokeDash":{"field":"k","type":"nominal","title":null},"strokeWidth":{"condition":{"test":"datum.k=='Truth'","value":3},"value":2}}},
{"data":{"name":"st"},"mark":"rule","encoding":{"y":{"field":"e","type":"quantitative","axis":null},"color":{"field":"k","type":"nominal","title":null},"strokeDash":{"field":"k","type":"nominal","title":null},"strokeWidth":{"condition":{"test":"datum.k=='Truth'","value":3},"value":2}}}]},
{"width":97,"height":97,"resolve":{"axis":{"x":"independent","y":"independent"}},"layer":[
{"data":{"name":"ctr"},"mark":{"type":"point","shape":"circle","filled":true,"opacity":1,"strokeWidth":0,"clip":true},"encoding":{"x":{"field":"Om","type":"quantitative","scale":{"domain":[37.533,50.467],"nice":false,"zero":false},"axis":{"orient":"top","values":[39,42,45,48],"title":null}},"y":{"field":"e","type":"quantitative","scale":{"domain":[0.25745,0.35643],"nice":false,"zero":false},"axis":{"orient":"right","values":[0.275,0.3,0.325,0.35],"title":null}},"size":{"condition":[{"test":"datum.lv==1","value":7396},{"test":"datum.lv==2","value":4225}],"value":1600},"fill":{"condition":[{"test":"datum.lv==1","value":"#84d2f9"},{"test":"datum.lv==2","value":"#4aa2e0"}],"value":"#2176b6"}}},
{"data":{"name":"st"},"mark":"rule","encoding":{"x":{"field":"Om","type":"quantitative","axis":{"orient":"bottom","values":[39,42,45,48],"format":"d","labels":true,"ticks":false,"labelAngle":-45,"labelAlign":"right","labelBaseline":"bottom","labelPadding":23,"title":"Ω[°]","titleFontStyle":"normal","titleY":72,"titleBaseline":"alphabetic"}},"color":{"field":"k","type":"nominal","title":null},"strokeDash":{"field":"k","type":"nominal","title":null},"strokeWidth":{"condition":{"test":"datum.k=='Truth'","value":3},"value":2}}},
{"data":{"name":"st"},"mark":"rule","encoding":{"y":{"field":"e","type":"quantitative","axis":null},"color":{"field":"k","type":"nominal","title":null},"strokeDash":{"field":"k","type":"nominal","title":null},"strokeWidth":{"condition":{"test":"datum.k=='Truth'","value":3},"value":2}}}]},
{"width":98,"height":97,"resolve":{"axis":{"x":"independent","y":"independent"}},"layer":[
{"data":{"name":"ctr"},"mark":{"type":"point","shape":"circle","filled":true,"opacity":1,"strokeWidth":0,"clip":true},"encoding":{"x":{"field":"om","type":"quantitative","scale":{"domain":[52.185,67.011],"nice":false,"zero":false},"axis":{"orient":"top","values":[54,57,60,63,66],"title":null}},"y":{"field":"e","type":"quantitative","scale":{"domain":[0.25745,0.35643],"nice":false,"zero":false},"axis":{"orient":"right","values":[0.275,0.3,0.325,0.35],"title":null}},"size":{"condition":[{"test":"datum.lv==1","value":7396},{"test":"datum.lv==2","value":4225}],"value":1600},"fill":{"condition":[{"test":"datum.lv==1","value":"#84d2f9"},{"test":"datum.lv==2","value":"#4aa2e0"}],"value":"#2176b6"}}},
{"data":{"name":"st"},"mark":"rule","encoding":{"x":{"field":"om","type":"quantitative","axis":{"orient":"bottom","values":[54,57,60,63,66],"format":"d","labels":true,"ticks":false,"labelAngle":-45,"labelAlign":"right","labelBaseline":"bottom","labelPadding":23,"title":"ω[°]","titleFontStyle":"italic","titleY":72,"titleBaseline":"alphabetic"}},"color":{"field":"k","type":"nominal","title":null},"strokeDash":{"field":"k","type":"nominal","title":null},"strokeWidth":{"condition":{"test":"datum.k=='Truth'","value":3},"value":2}}},
{"data":{"name":"st"},"mark":"rule","encoding":{"y":{"field":"e","type":"quantitative","axis":null},"color":{"field":"k","type":"nominal","title":null},"strokeDash":{"field":"k","type":"nominal","title":null},"strokeWidth":{"condition":{"test":"datum.k=='Truth'","value":3},"value":2}}}]},
{"width":98,"height":97,"resolve":{"axis":{"x":"independent","y":"independent"}},"layer":[
{"data":{"name":"ctr"},"mark":{"type":"point","shape":"circle","filled":true,"opacity":1,"strokeWidth":0,"clip":true},"encoding":{"x":{"field":"M","type":"quantitative","scale":{"domain":[0.89345,1.09361],"nice":false,"zero":false},"axis":{"orient":"top","values":[0.92,0.96,1,1.04,1.08],"title":null}},"y":{"field":"e","type":"quantitative","scale":{"domain":[0.25745,0.35643],"nice":false,"zero":false},"axis":{"orient":"right","values":[0.275,0.3,0.325,0.35],"title":null}},"size":{"condition":[{"test":"datum.lv==1","value":7396},{"test":"datum.lv==2","value":4225}],"value":1600},"fill":{"condition":[{"test":"datum.lv==1","value":"#84d2f9"},{"test":"datum.lv==2","value":"#4aa2e0"}],"value":"#2176b6"}}},
{"data":{"name":"st"},"mark":"rule","encoding":{"x":{"field":"M","type":"quantitative","axis":{"orient":"bottom","values":[0.92,0.96,1,1.04,1.08],"format":".2f","labels":true,"ticks":false,"labelAngle":-45,"labelAlign":"right","labelBaseline":"bottom","labelPadding":23,"title":"Mₜₒₜ [10⁹M⊙]","titleFontStyle":"italic","titleY":72,"titleBaseline":"alphabetic"}},"color":{"field":"k","type":"nominal","title":null},"strokeDash":{"field":"k","type":"nominal","title":null},"strokeWidth":{"condition":{"test":"datum.k=='Truth'","value":3},"value":2}}},
{"data":{"name":"st"},"mark":"rule","encoding":{"y":{"field":"e","type":"quantitative","axis":null},"color":{"field":"k","type":"nominal","title":null},"strokeDash":{"field":"k","type":"nominal","title":null},"strokeWidth":{"condition":{"test":"datum.k=='Truth'","value":3},"value":2}}}]},
{"width":93,"height":97,"resolve":{"axis":{"x":"independent"}},"layer":[
{"data":{"name":"h_e"},"mark":{"type":"area","color":"#4fa7e1","clip":true},"encoding":{"x":{"field":"x","type":"quantitative","scale":{"domain":[0.25684,0.35173],"nice":false,"zero":false},"axis":null},"y":{"field":"d","type":"quantitative","scale":{"domain":[0,1.04],"nice":false},"axis":null}}},
{"data":{"name":"st"},"mark":"rule","encoding":{"x":{"field":"e","type":"quantitative","axis":{"orient":"bottom","values":[0.275,0.3,0.325,0.35],"format":".3f","labels":true,"ticks":false,"labelAngle":-45,"labelAlign":"right","labelBaseline":"bottom","labelPadding":23,"title":"e","titleFontStyle":"italic","titleY":72,"titleBaseline":"alphabetic"}},"color":{"field":"k","type":"nominal","title":null},"strokeDash":{"field":"k","type":"nominal","title":null},"strokeWidth":{"condition":{"test":"datum.k=='Truth'","value":3},"value":2}}}]}
],
"config":{
"view":{"stroke":"#333333","strokeWidth":2.5},
"axis":{"grid":false,"domain":false,"labels":false,"tickSize":-6,"tickColor":"#444444","tickWidth":1.2,"zindex":1,"labelOverlap":false,"labelFlush":false,"labelFont":"DejaVu Sans","labelFontSize":13,"labelColor":"#333333","titleFont":"DejaVu Sans","titleFontSize":19,"titleFontWeight":"normal","titleColor":"#222222"},
"legend":{"orient":"none","legendX":480,"legendY":17.5,"symbolType":"stroke","symbolSize":4450,"symbolStrokeWidth":2.5,"labelFont":"DejaVu Sans","labelFontSize":21,"labelOffset":15,"rowPadding":11.2,"clipHeight":21}
}
}
